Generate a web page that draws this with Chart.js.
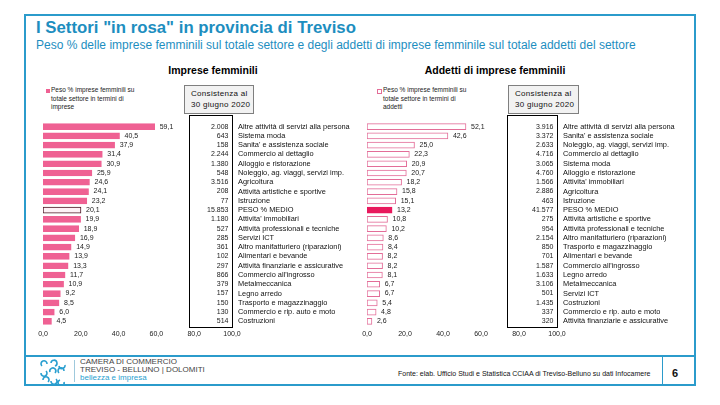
<!DOCTYPE html>
<html>
<head>
<meta charset="utf-8">
<script src="https://cdn.jsdelivr.net/npm/chart.js@4.4.0/dist/chart.umd.min.js"></script>
<style>
body { margin: 0; width: 720px; height: 405px; background: #fff; font-family: "Liberation Sans", Arial, sans-serif; position: relative; overflow: hidden; }
.abs { position: absolute; }
#cornice { left: 24px; top: 14px; width: 672px; height: 372px; border: 2px solid #2b9bcb; box-sizing: border-box; }
#linea { left: 25px; top: 355px; width: 670px; height: 2px; background: #2b9bcb; }
#titolo { left: 36px; top: 18px; font-size: 16.8px; font-weight: bold; color: #1d8ebf; white-space: nowrap; }
#sottotitolo { left: 36px; top: 38px; font-size: 12px; color: #1d8ebf; white-space: nowrap; }
.tgraf { font-size: 10.5px; font-weight: bold; color: #000; white-space: nowrap; transform: translateX(-50%); }
.leg { font-size: 6.5px; line-height: 8.5px; color: #222; white-space: nowrap; }
.quad { width: 4px; height: 4px; }
.cons { background: #f2f2f2; border: 1px solid #7f7f7f; font-size: 8px; line-height: 11px; color: #111; letter-spacing: 0.3px; padding: 2px 0 0 6px; box-sizing: border-box; white-space: nowrap; }
.fonte { font-size: 7px; color: #111; white-space: nowrap; }
.logo-t { font-size: 8px; line-height: 8px; color: #444; white-space: nowrap; }
</style>
</head>
<body>
<div id="cornice" class="abs"></div>
<div id="linea" class="abs"></div>
<div id="titolo" class="abs">I Settori "in rosa" in provincia di Treviso</div>
<div id="sottotitolo" class="abs">Peso % delle imprese femminili sul totale settore e degli addetti di imprese femminile sul totale addetti del settore</div>

<div class="abs tgraf" style="left:213px;top:64px">Imprese femminili</div>
<div class="abs quad" style="left:46px;top:89px;background:#ef6193"></div>
<div class="abs leg" style="left:51px;top:86px">Peso % imprese femminili su<br>totale settore in termini di<br>imprese</div>
<div class="abs cons" style="left:184px;top:85px;width:70px;height:29px">Consistenza al<br>30 giugno 2020</div>

<div class="abs tgraf" style="left:495px;top:64px">Addetti di imprese femminili</div>
<div class="abs quad" style="left:377px;top:89px;background:#fff;border:1px solid #e36d98;width:3px;height:3px"></div>
<div class="abs leg" style="left:383px;top:86px">Peso % imprese femminili su<br>totale settore in termini di<br>addetti</div>
<div class="abs cons" style="left:508px;top:85px;width:71px;height:29px">Consistenza al<br>30 giugno 2020</div>

<canvas id="sinistra" class="abs" style="left:0;top:100px"></canvas>
<canvas id="destra" class="abs" style="left:330px;top:100px"></canvas>

<svg class="abs" style="left:38px;top:359px" width="34" height="26" viewBox="0 0 34 26">
  <g fill="none" stroke="#2a9fd0" stroke-width="1.6">
    <path d="M4 7 a3 3 0 1 1 5 -2 M13 4 a3 3 0 1 1 4 3 M21 7 a3 3 0 1 0 6 -1"/>
    <path d="M3 14 a3 3 0 1 0 5 -2 M12 13 a3 3 0 1 1 5 1 M21 14 a3 3 0 1 1 5 -2"/>
    <path d="M5 21 a3 3 0 1 1 5 2 M13 22 a3 3 0 1 0 5 -2 M22 21 a3 3 0 1 0 4 2"/>
  </g>
</svg>
<div class="abs" style="left:74px;top:360px;width:1px;height:22px;background:#9fc9dc"></div>
<div class="abs logo-t" style="left:80px;top:358px">CAMERA DI COMMERCIO<br>TREVISO - BELLUNO | DOLOMITI<br><span style="color:#2a9fd0">bellezza e impresa</span></div>
<div class="abs fonte" style="left:398px;top:370px">Fonte: elab. Ufficio Studi e Statistica CCIAA di Treviso-Belluno su dati Infocamere</div>
<div class="abs" style="left:662px;top:357px;width:1px;height:28px;background:#2b9bcb"></div>
<div class="abs" style="left:672px;top:367px;font-size:11px;font-weight:bold;color:#111">6</div>

<script>
// Imprese femminili
var settoriImprese = ["Altre attività di servizi alla persona", "Sistema moda", "Sanita' e assistenza sociale", "Commercio al dettaglio",
  "Alloggio e ristorazione", "Noleggio, ag. viaggi, servizi imp.", "Agricoltura", "Attività artistiche e sportive", "Istruzione",
  "PESO % MEDIO", "Attivita' immobiliari", "Attività professionali e tecniche", "Servizi ICT", "Altro manifatturiero (riparazioni)",
  "Alimentari e bevande", "Attività finanziarie e assicurative", "Commercio all'ingrosso", "Metalmeccanica", "Legno arredo",
  "Trasporto e magazzinaggio", "Commercio e rip. auto e moto", "Costruzioni"];
var pesoImprese = [59.1, 40.5, 37.9, 31.4, 30.9, 25.9, 24.6, 24.1, 23.2, 20.1, 19.9, 18.9, 16.9, 14.9, 13.9, 13.3, 11.7, 10.9, 9.2, 8.5, 6.0, 4.5];
var consImprese = [2008, 643, 158, 2244, 1380, 548, 3516, 208, 77, 15853, 1180, 527, 285, 361, 102, 297, 866, 379, 157, 150, 130, 514];

// Addetti di imprese femminili
var settoriAddetti = ["Altre attività di servizi alla persona", "Sanita' e assistenza sociale", "Noleggio, ag. viaggi, servizi imp.",
  "Commercio al dettaglio", "Sistema moda", "Alloggio e ristorazione", "Attivita' immobiliari", "Agricoltura", "Istruzione",
  "PESO % MEDIO", "Attività artistiche e sportive", "Attività professionali e tecniche", "Altro manifatturiero (riparazioni)",
  "Trasporto e magazzinaggio", "Alimentari e bevande", "Commercio all'ingrosso", "Legno arredo", "Metalmeccanica", "Servizi ICT",
  "Costruzioni", "Commercio e rip. auto e moto", "Attività finanziarie e assicurative"];
var pesoAddetti = [52.1, 42.6, 25.0, 22.3, 20.9, 20.7, 18.2, 15.8, 15.1, 13.2, 10.8, 10.2, 8.6, 8.4, 8.2, 8.2, 8.1, 6.7, 6.7, 5.4, 4.8, 2.6];
var consAddetti = [3916, 3372, 2633, 4716, 3065, 4760, 1566, 2886, 463, 41577, 275, 954, 2154, 850, 701, 1587, 1633, 3106, 501, 1435, 337, 320];

var tickAsse = [0, 20, 40, 60, 80, 100];

function dec1(v) { return v.toFixed(1).replace('.', ','); }
function migliaia(n) { return String(n).replace(/\B(?=(\d{3})+(?!\d))/g, '.'); }

var tabella = {
  id: 'tabella',
  afterDatasetsDraw: function (chart, args, opts) {
    var ctx = chart.ctx;
    var xs = chart.scales.x, ys = chart.scales.y;
    var meta = chart.getDatasetMeta(0);
    var valori = chart.data.datasets[0].data;
    ctx.save();
    ctx.font = '7px "Liberation Sans", Arial, sans-serif';
    ctx.fillStyle = '#222';
    ctx.textBaseline = 'middle';
    ctx.textAlign = 'left';
    meta.data.forEach(function (bar, i) {
      ctx.fillText(dec1(valori[i]), bar.x + 5, bar.y);
    });
    // riquadro consistenza
    var x0 = Math.round(xs.getPixelForValue(opts.da)) + 0.5;
    var x1 = Math.round(xs.right) + 0.5;
    var y0 = Math.round(ys.top) - 6.5;
    var y1 = Math.round(ys.bottom) + 1.5;
    ctx.fillStyle = '#fff';
    ctx.fillRect(x0, y0, x1 - x0, y1 - y0);
    ctx.strokeStyle = '#000';
    ctx.lineWidth = 1;
    ctx.strokeRect(x0, y0, x1 - x0, y1 - y0);
    ctx.fillStyle = '#222';
    ctx.textAlign = 'right';
    opts.numeri.forEach(function (n, i) {
      ctx.fillText(migliaia(n), x1 - 4, ys.getPixelForValue(i));
    });
    ctx.restore();
  }
};

function creaGrafico(id, larghezza, sinistra, larghezzaAsse, settori, valori, numeri, colori, bordi, da) {
  var c = document.getElementById(id);
  c.width = larghezza;
  c.height = 245;
  return new Chart(c, {
    type: 'bar',
    data: {
      labels: settori,
      datasets: [{
        data: valori,
        backgroundColor: colori,
        borderColor: bordi,
        borderWidth: 1,
        borderSkipped: false,
        barThickness: 6
      }]
    },
    options: {
      indexAxis: 'y',
      responsive: false,
      animation: false,
      layout: { padding: { left: sinistra, top: 22, right: 0, bottom: 0 } },
      plugins: {
        legend: { display: false },
        tooltip: { enabled: false },
        tabella: { numeri: numeri, da: da }
      },
      scales: {
        x: {
          min: 0, max: 100,
          afterBuildTicks: function (s) { s.ticks = tickAsse.map(function (v) { return { value: v }; }); },
          afterFit: function (s) { s.height = 19; },
          grid: { display: false, drawTicks: false },
          border: { display: false },
          ticks: {
            padding: 4,
            maxRotation: 0,
            color: '#222',
            font: { family: '"Liberation Sans", Arial, sans-serif', size: 7 },
            callback: function (v) { return dec1(v); }
          }
        },
        y: {
          position: 'right',
          afterFit: function (s) { s.width = larghezzaAsse; },
          grid: { display: false, drawTicks: false },
          border: { display: false },
          ticks: {
            padding: 6,
            autoSkip: false,
            color: '#111',
            font: { family: '"Liberation Sans", Arial, sans-serif', size: 7.4 }
          }
        }
      }
    },
    plugins: [tabella]
  });
}

var coloriImprese = settoriImprese.map(function (s) { return s == "PESO % MEDIO" ? '#fdf2f6' : '#ef6193'; });
var bordiImprese = settoriImprese.map(function (s) { return s == "PESO % MEDIO" ? '#4a1422' : '#ef6193'; });
var coloriAddetti = settoriAddetti.map(function (s) { return s == "PESO % MEDIO" ? '#e8195d' : '#ffffff'; });
var bordiAddetti = settoriAddetti.map(function (s) { return s == "PESO % MEDIO" ? '#e8195d' : '#e36d98'; });

creaGrafico('sinistra', 360, 43, 128, settoriImprese, pesoImprese, consImprese, coloriImprese, bordiImprese, 77);
creaGrafico('destra', 370, 37, 143, settoriAddetti, pesoAddetti, consAddetti, coloriAddetti, bordiAddetti, 73.5);
</script>
</body>
</html>
